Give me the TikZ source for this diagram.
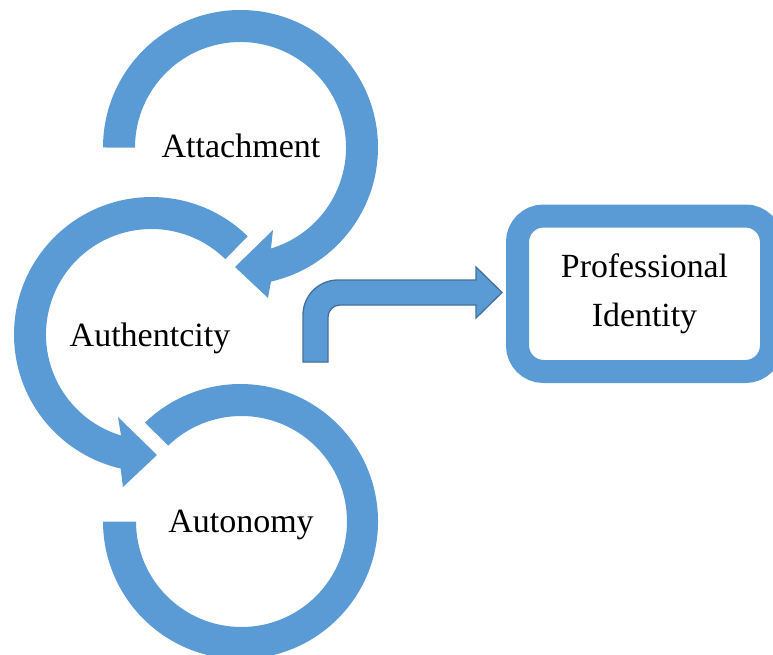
\documentclass[tikz,border=0pt]{standalone}
\usepackage{fontspec}
\setmainfont{Liberation Serif}
\usetikzlibrary{calc}
\definecolor{ofblue}{HTML}{5B9BD5}
\definecolor{ofedge}{HTML}{41719C}
\begin{document}
\begin{tikzpicture}[x=1pt,y=1pt,
  ringfill/.style={fill=ofblue},
  lbl/.style={anchor=base,inner sep=0pt,font=\fontsize{34}{40}\selectfont},
  pibox/.style={draw=ofblue,line width=23pt,rounded corners=26pt,minimum width=254pt,minimum height=155.5pt,align=center,font=\fontsize{33.8}{49.4}\selectfont},
  bentarrow/.style={fill=ofblue,draw=ofedge,line width=1.3pt,line join=miter}]
\useasboundingbox (0,0) rectangle (773,-655);
\clip (0,0) rectangle (773,-655);
% circular arrow 1 (Attachment)
\fill[ringfill] (103,-147.5) arc[start angle=180,end angle=-77.2,radius=137.5]
  -- (268,-298) -- (235,-267) -- (273,-230) -- (271,-248.5)
  arc[start angle=-73.2,end angle=180,radius=105.5] -- cycle;
% circular arrow 2 (Authentcity)
\fill[ringfill] (247.7,-236.3) arc[start angle=45.6,end angle=257,radius=137.5]
  -- (123,-487) -- (157,-455) -- (118,-417) -- (121,-435.5)
  arc[start angle=253.2,end angle=45.6,radius=105.5] -- cycle;
% circular ring 3 (Autonomy)
\fill[ringfill] (145,-422.6) arc[start angle=134,end angle=-180,radius=137.5]
  -- (136,-521.5) arc[start angle=-180,end angle=134,radius=105.5] -- cycle;
% labels
\node[lbl] (att) at (241,-158) {Attachment};
\node[lbl] (aut) at (150,-346) {Authentcity};
\node[lbl] (ato) at (241,-532.7) {Autonomy};
% professional identity box
\node[pibox] (pi) at (644.5,-293.75) {Professional\\Identity};
% bent arrow
\coordinate (tip) at ($(pi.west)+(-4,1.25)$);
\filldraw[bentarrow] (303,-362) -- (303,-315) arc[start angle=180,end angle=90,radius=35]
  -- (476,-280) -- (476,-267) -- (tip) -- (476,-318) -- (476,-305) -- (340,-305)
  arc[start angle=90,end angle=180,radius=12] -- (328,-362) -- cycle;
\end{tikzpicture}
\end{document}
